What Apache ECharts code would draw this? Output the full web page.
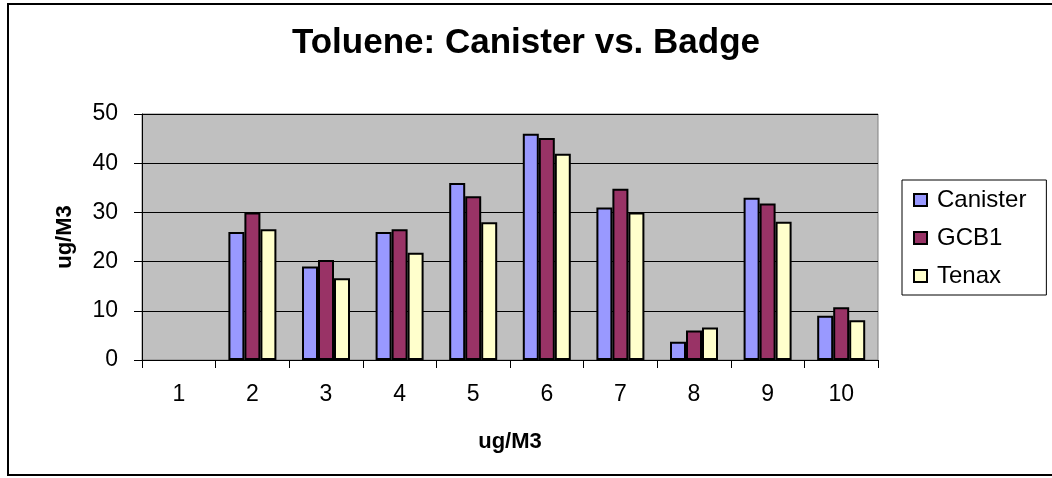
<!DOCTYPE html>
<html>
<head>
<meta charset="utf-8">
<title>Toluene: Canister vs. Badge</title>
<script src="https://cdn.jsdelivr.net/npm/echarts@6/dist/echarts.min.js"></script>
<style>
  html, body { margin: 0; padding: 0; background: #fff; }
  #chart { width: 1052px; height: 478px; }
</style>
</head>
<body>
<div id="chart"></div>
<script>
// samples 1..10, values in ug/M3 (sample 1 has no data)
const categories = ["1", "2", "3", "4", "5", "6", "7", "8", "9", "10"];
const canister = [null, 26, 19, 26, 36, 46, 31, 3.7, 33, 9];
const gcb1 = [null, 30, 20.3, 26.6, 33.3, 45.1, 34.8, 6, 31.8, 10.7];
const tenax = [null, 26.6, 16.6, 21.8, 28, 41.9, 30, 6.6, 28.1, 8.1];

const font = "'Liberation Sans', Arial, sans-serif";

const chart = echarts.init(document.getElementById("chart"));

const barStyle = (color) => ({
  color: color,
  borderColor: "#000",
  borderWidth: 2,
});

const option = {
  backgroundColor: "#fff",
  animation: false,
  textStyle: { fontFamily: font },
  title: {
    text: "Toluene: Canister vs. Badge",
    left: "center",
    top: 21,
    textStyle: {
      fontFamily: font,
      fontSize: 35,
      fontWeight: "bold",
      color: "#000",
    },
  },
  // outer chart frame
  graphic: [
    {
      type: "rect",
      shape: { x: 8, y: 4, width: 1060, height: 471 },
      style: { fill: "none", stroke: "#000", lineWidth: 2 },
      silent: true,
    },
  ],
  legend: {
    orient: "vertical",
    left: 902,
    top: 180,
    padding: [8, 20, 7, 11],
    itemGap: 14,
    itemWidth: 13,
    itemHeight: 12,
    icon: "rect",
    borderColor: "#000",
    borderWidth: 1,
    textStyle: { fontFamily: font, fontSize: 24, color: "#000", padding: [0, 0, 0, 5] },
    data: ["Canister", "GCB1", "Tenax"],
  },
  grid: {
    left: 142,
    top: 114,
    width: 736,
    height: 246,
    show: true,
    backgroundColor: "#C0C0C0",
    borderColor: "#808080",
    borderWidth: 1,
  },
  xAxis: {
    type: "category",
    data: categories,
    name: "ug/M3",
    nameLocation: "middle",
    nameGap: 71,
    nameTextStyle: { fontFamily: font, fontSize: 22, fontWeight: "bold", color: "#000" },
    axisLine: { lineStyle: { color: "#000", width: 1 } },
    axisTick: { show: true, length: 8, lineStyle: { color: "#000" } },
    axisLabel: { fontFamily: font, fontSize: 23, color: "#000", margin: 23 },
  },
  yAxis: {
    type: "value",
    min: 0,
    max: 50,
    interval: 10,
    name: "ug/M3",
    nameLocation: "middle",
    nameGap: 66,
    nameTextStyle: { fontFamily: font, fontSize: 22, fontWeight: "bold", color: "#000" },
    axisLine: { show: true, lineStyle: { color: "#000", width: 1 } },
    axisTick: { show: true, length: 8, lineStyle: { color: "#000" } },
    axisLabel: { fontFamily: font, fontSize: 23, color: "#000", margin: 24 },
    splitLine: { show: true, lineStyle: { color: "#000", width: 1 } },
  },
  series: [
    {
      name: "Canister",
      type: "bar",
      data: canister,
      barWidth: 16,
      barGap: "0%",
      itemStyle: barStyle("#9999FF"),
    },
    {
      name: "GCB1",
      type: "bar",
      data: gcb1,
      barWidth: 16,
      barGap: "0%",
      itemStyle: barStyle("#993366"),
    },
    {
      name: "Tenax",
      type: "bar",
      data: tenax,
      barWidth: 16,
      barGap: "0%",
      itemStyle: barStyle("#FFFFCC"),
    },
  ],
};

chart.setOption(option);
</script>
</body>
</html>
